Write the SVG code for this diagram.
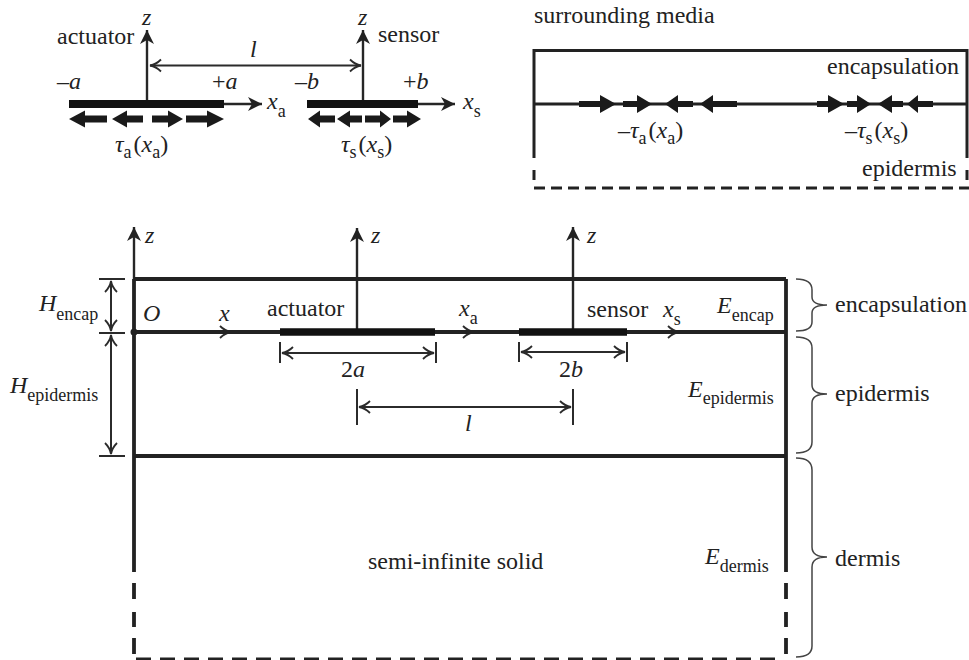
<svg xmlns="http://www.w3.org/2000/svg" width="969" height="660" viewBox="0 0 969 660">
<style>
text{font-family:"Liberation Serif","Times New Roman",serif;font-size:24px;fill:#222}
.i{font-style:italic}
.s{font-size:18px;font-style:normal}
.thin{stroke:#2b2b2b;stroke-width:2;fill:none}
.ax{stroke:#262626;stroke-width:2.4;fill:none}
.wall{stroke:#222;stroke-width:3.8;fill:none}
.wall2{stroke:#222;stroke-width:3;fill:none}
.bar{stroke:#111;fill:none}
.fat{fill:#1a1a1a}
.brace{stroke:#444;stroke-width:1.5;fill:none}
</style>
<defs>
<marker id="head" markerUnits="userSpaceOnUse" markerWidth="18" markerHeight="18" refX="14" refY="9" orient="auto-start-reverse"><path d="M0,2 L14,9 L0,16 L4,9 Z" fill="#222"/></marker>
<marker id="vee" markerUnits="userSpaceOnUse" markerWidth="16" markerHeight="16" refX="12" refY="8" orient="auto-start-reverse"><path d="M1,2 Q6,7 12,8 Q6,9 1,14" fill="none" stroke="#2b2b2b" stroke-width="1.8"/></marker>
</defs>

<g id="connectors">
<path class="ax" d="M147,100V30" marker-end="url(#head)"/>
<path class="ax" d="M363,100V30" marker-end="url(#head)"/>
<path class="thin" d="M150,65.5H361" marker-start="url(#vee)" marker-end="url(#vee)"/>
<path class="ax" d="M224,104H262" marker-end="url(#head)"/>
<path class="ax" d="M418,104H455" marker-end="url(#head)"/>
<path class="ax" d="M134,279V227" marker-end="url(#head)"/>
<path class="ax" d="M357,332V228" marker-end="url(#head)"/>
<path class="ax" d="M573,332V227" marker-end="url(#head)"/>
<path class="thin" d="M215,332H231" marker-end="url(#vee)"/>
<path class="thin" d="M458,332H474" marker-end="url(#vee)"/>
<path class="thin" d="M663,332H679" marker-end="url(#vee)"/>
<path class="thin" d="M282,353H434" marker-start="url(#vee)" marker-end="url(#vee)"/>
<path class="thin" d="M521,352H625" marker-start="url(#vee)" marker-end="url(#vee)"/>
<path class="thin" d="M359,407H571" marker-start="url(#vee)" marker-end="url(#vee)"/>
<path class="thin" d="M111,281V331" marker-start="url(#vee)" marker-end="url(#vee)"/>
<path class="thin" d="M111,335V454" marker-start="url(#vee)" marker-end="url(#vee)"/>
<path class="thin" d="M99,279H125M99,333H125M99,456H125M280,342V363M436,342V363M519,342V362M627,342V362M357,389V425M573,389V425"/>
</g>

<g id="actuator-free">
<path class="bar" stroke-width="8" d="M69,104H224"/>
<path class="fat" d="M69,119L85,110.5V115.5H107V122.5H85V127.5Z"/>
<path class="fat" d="M112,119L127,110.5V115.5H143V122.5H127V127.5Z"/>
<path class="fat" d="M183,119L168,110.5V115.5H152V122.5H168V127.5Z"/>
<path class="fat" d="M224,119L207,110.5V115.5H186V122.5H207V127.5Z"/>
<text x="142" y="25" class="i">z</text>
<text x="57" y="44">actuator</text>
<text x="250" y="57" class="i">l</text>
<text x="57" y="89" class="i">–a</text>
<text x="212" y="89">+<tspan class="i">a</tspan></text>
<text x="267" y="109" class="i">x<tspan class="s" dy="8">a</tspan></text>
<text x="115" y="152" class="i">τ<tspan class="s" dy="6">a</tspan><tspan dy="-6" dx="2" style="font-style:normal">(</tspan>x<tspan class="s" dy="6">a</tspan><tspan dy="-6" style="font-style:normal">)</tspan></text>
</g>

<g id="sensor-free">
<path class="bar" stroke-width="8" d="M307,104H418"/>
<path class="fat" d="M308,119L320,110.5V115.5H335V122.5H320V127.5Z"/>
<path class="fat" d="M337,119L350,110.5V115.5H362V122.5H350V127.5Z"/>
<path class="fat" d="M391,119L380,110.5V115.5H365V122.5H380V127.5Z"/>
<path class="fat" d="M421,119L407,110.5V115.5H393V122.5H407V127.5Z"/>
<text x="358" y="25" class="i">z</text>
<text x="378" y="42">sensor</text>
<text x="295" y="89" class="i">–b</text>
<text x="403" y="89">+<tspan class="i">b</tspan></text>
<text x="463" y="109" class="i">x<tspan class="s" dy="8">s</tspan></text>
<text x="341" y="152" class="i">τ<tspan class="s" dy="6">s</tspan><tspan dy="-6" dx="2" style="font-style:normal">(</tspan>x<tspan class="s" dy="6">s</tspan><tspan dy="-6" style="font-style:normal">)</tspan></text>
</g>

<g id="surrounding-media">
<path class="wall2" d="M534,158V50.5H967V158"/>
<path class="wall2" stroke-width="2.4" d="M534,104H967"/>
<path class="wall2" d="M534,170V180M967,170V180"/>
<path class="wall2" stroke-dasharray="11,6" d="M534,188H969"/>
<path class="fat" d="M579,101H600V95L616,104L600,113V107H579Z"/>
<path class="fat" d="M623,101H637V95L652,104L637,113V107H623Z"/>
<path class="fat" d="M693,101H678V95L665,104L678,113V107H693Z"/>
<path class="fat" d="M737,101H713V95L700,104L713,113V107H737Z"/>
<path class="fat" d="M817,101H828V95L844,104L828,113V107H817Z"/>
<path class="fat" d="M847,101H857V95L871,104L857,113V107H847Z"/>
<path class="fat" d="M903,101H892V95L878,104L892,113V107H903Z"/>
<path class="fat" d="M933,101H918V95L907,104L918,113V107H933Z"/>
<text x="534" y="23">surrounding media</text>
<text x="827" y="74">encapsulation</text>
<text x="862" y="176">epidermis</text>
<text x="618" y="138">–<tspan class="i">τ</tspan><tspan class="s" dy="6">a</tspan><tspan dy="-6" dx="2">(</tspan><tspan class="i">x</tspan><tspan class="s" dy="6">a</tspan><tspan dy="-6">)</tspan></text>
<text x="845" y="138">–<tspan class="i">τ</tspan><tspan class="s" dy="6">s</tspan><tspan dy="-6" dx="2">(</tspan><tspan class="i">x</tspan><tspan class="s" dy="6">s</tspan><tspan dy="-6">)</tspan></text>
</g>

<g id="encapsulation-layer">
<path class="wall" d="M134,279H786"/>
<path class="wall" d="M134,332H786"/>
<circle cx="134" cy="332" r="3.5" fill="#222"/>
<path class="bar" stroke-width="7.5" d="M280,332H435M519,332H627"/>
<text x="39" y="311" class="i">H<tspan class="s" dy="9">encap</tspan></text>
<text x="143" y="321" class="i">O</text>
<text x="219" y="321" class="i">x</text>
<text x="267" y="316">actuator</text>
<text x="459" y="316" class="i">x<tspan class="s" dy="8">a</tspan></text>
<text x="587" y="317">sensor</text>
<text x="663" y="317" class="i">x<tspan class="s" dy="8">s</tspan></text>
<text x="717" y="313" class="i">E<tspan class="s" dy="8">encap</tspan></text>
<text x="145" y="243" class="i">z</text>
<text x="371" y="243" class="i">z</text>
<text x="587" y="243" class="i">z</text>
<path class="brace" d="M796,279Q812,279 812,290V297Q812,305 827,305Q812,305 812,313V322Q812,331 796,331"/>
<text x="835" y="312">encapsulation</text>
</g>

<g id="epidermis-layer">
<path class="wall" d="M134,456H786"/>
<text x="341" y="377">2<tspan class="i">a</tspan></text>
<text x="559" y="377">2<tspan class="i">b</tspan></text>
<text x="465" y="431" class="i">l</text>
<text x="10" y="393" class="i">H<tspan class="s" dy="8">epidermis</tspan></text>
<text x="688" y="397" class="i">E<tspan class="s" dy="7">epidermis</tspan></text>
<path class="brace" d="M796,337Q812,337 812,348V385Q812,394 827,394Q812,394 812,403V442Q812,453 796,453"/>
<text x="835" y="401">epidermis</text>
</g>

<g id="dermis-layer">
<path class="wall" d="M134,279V572M786,279V572"/>
<path class="wall" d="M134,583V599M134,612V627M134,638V654M786,583V599M786,612V627M786,638V654"/>
<path class="wall2" stroke-width="2.2" stroke-dasharray="15,9" d="M136,659H784"/>
<text x="368" y="569">semi-infinite solid</text>
<text x="705" y="564" class="i">E<tspan class="s" dy="8">dermis</tspan></text>
<path class="brace" d="M796,458Q812,458 812,470V547Q812,557 827,557Q812,557 812,567V646Q812,657 796,657"/>
<text x="835" y="566">dermis</text>
</g>
</svg>
